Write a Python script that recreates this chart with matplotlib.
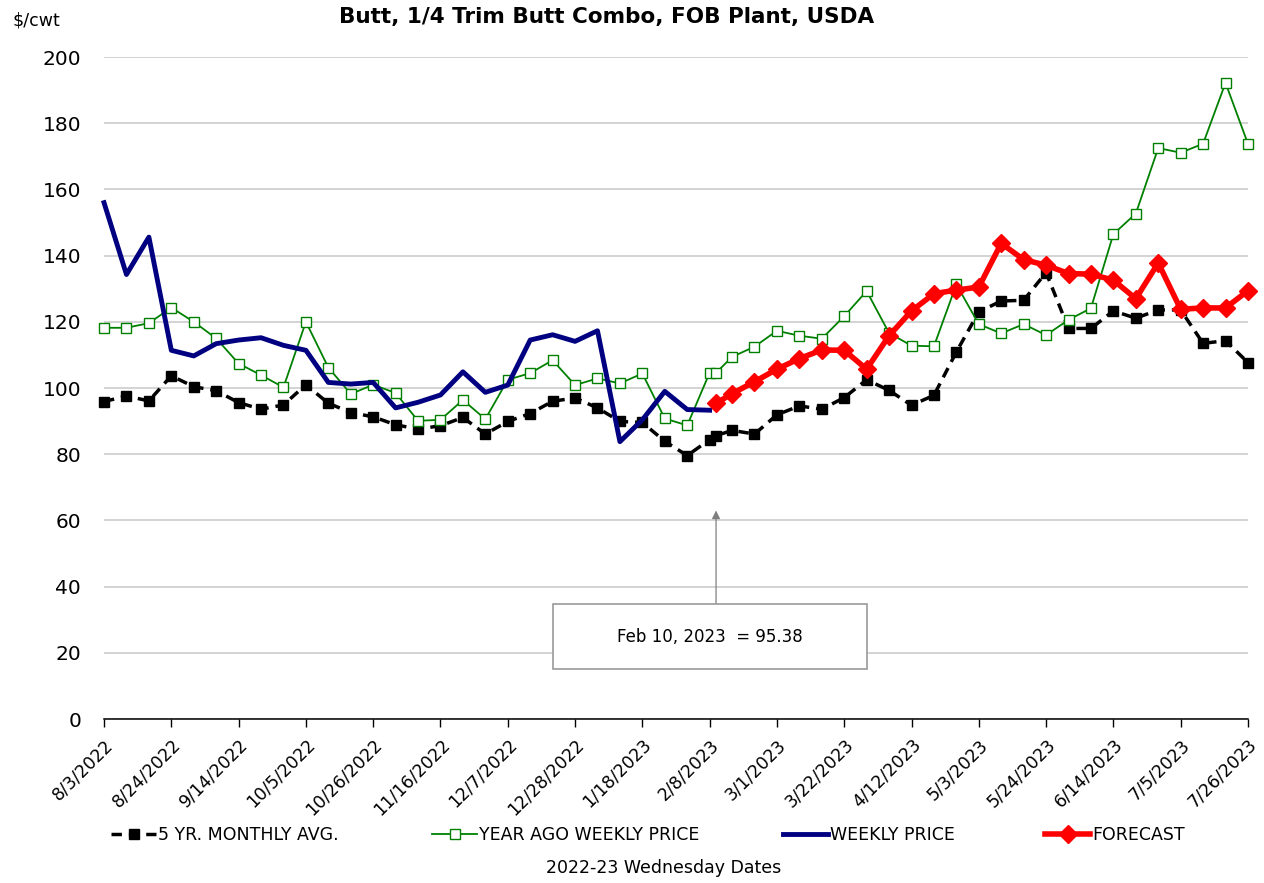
import numpy as np
import pandas as pd
import matplotlib
matplotlib.use('Agg')
import matplotlib.pyplot as plt
from matplotlib.patches import Rectangle

plt.rcParams['font.family'] = 'DejaVu Sans'

# weekly Wednesday dates, plus the Feb 10 forecast start
weeks = pd.date_range('2022-08-03', periods=52, freq='7D')
feb10 = pd.Timestamp('2023-02-10')
full_dates = weeks[:28].append(pd.DatetimeIndex([feb10])).append(weeks[28:])
weekly_dates = weeks[:28]
forecast_dates = pd.DatetimeIndex([feb10]).append(weeks[28:])

five_yr_avg = [95.9, 97.6, 96.1, 103.7, 100.4, 99.2, 95.6, 93.6, 94.9, 101.0,
               95.4, 92.6, 91.3, 88.9, 87.6, 88.6, 91.1, 86.1, 89.9, 92.3,
               96.0, 97.0, 94.0, 89.9, 89.6, 83.9, 79.6, 84.4, 85.6,
               87.2, 86.1, 91.9, 94.6, 93.6, 97.1, 102.5, 99.3, 94.8, 97.8,
               110.9, 123.0, 126.3, 126.5, 134.9, 118.0, 118.0, 123.3, 121.1, 123.6,
               123.6, 113.5, 114.3, 107.7]

year_ago = [118.2, 118.2, 119.6, 124.3, 120.0, 115.0, 107.4, 103.9, 100.2, 120.0,
            106.2, 98.2, 101.0, 98.5, 90.1, 90.4, 96.4, 90.6, 102.5, 104.5,
            108.4, 100.9, 102.9, 101.4, 104.4, 90.8, 88.7, 104.6, 104.6,
            109.4, 112.5, 117.3, 115.8, 114.9, 121.7, 129.3, 116.6, 112.8, 112.6,
            131.3, 119.3, 116.5, 119.3, 116.0, 120.6, 124.1, 146.5, 152.7, 172.5,
            171.1, 173.8, 192.2, 173.8]

weekly_price = [156.0, 134.3, 145.6, 111.4, 109.7, 113.4, 114.5, 115.2, 112.9, 111.4,
                101.7, 101.2, 101.7, 94.0, 95.7, 97.9, 104.9, 98.7, 100.9, 114.5,
                116.1, 114.1, 117.3, 83.8, 90.4, 99.0, 93.5, 93.3]

forecast = [95.38, 98.3, 101.9, 105.7, 108.9, 111.5, 111.4, 105.7, 115.8, 123.3,
            128.5, 129.6, 130.5, 143.7, 138.8, 137.1, 134.6, 134.4, 132.6, 127.0,
            137.8, 123.8, 124.2, 124.2, 129.4]

tick_dates = weeks[::3]
tick_labels = [f"{d.month}/{d.day}/{d.year}" for d in tick_dates]

fig = plt.figure(figsize=(12.64, 8.83), dpi=100)
ax = fig.add_axes([0.0823, 0.1857, 0.905, 0.7497])

l1, = ax.plot(full_dates, five_yr_avg, color='black', lw=2.5, ls=(0, (3, 2)),
              marker='s', ms=6.5, clip_on=False, label='5 YR. MONTHLY AVG.')
l2, = ax.plot(full_dates, year_ago, color='#008000', lw=1.3, marker='s', ms=7,
              mfc='white', mec='#008000', mew=1.0, clip_on=False, label='YEAR AGO WEEKLY PRICE')
l3, = ax.plot(weekly_dates, weekly_price, color='#000080', lw=3.5, clip_on=False,
              label='WEEKLY PRICE')
l4, = ax.plot(forecast_dates, forecast, color='red', lw=4, marker='D', ms=9,
              clip_on=False, label='FORECAST')

ax.set_xlim(weeks[0], weeks[-1])
ax.set_ylim(0, 200)
ax.set_yticks(np.arange(0, 201, 20))
ax.yaxis.grid(True, color='#d0d0d0', lw=1.3)
ax.set_axisbelow(True)
for s in ['left', 'right', 'top']:
    ax.spines[s].set_visible(False)
ax.spines['bottom'].set_linewidth(1.1)
ax.tick_params(axis='y', length=0, pad=16.5, labelsize=14.5)
ax.set_xticks(tick_dates)
ax.set_xticklabels(tick_labels, rotation=45, ha='right', rotation_mode='anchor', fontsize=12.5)
ax.tick_params(axis='x', direction='out', length=6, width=1.0, pad=6)

# annotation box and arrow
ax.annotate('', xy=(feb10, 63), xytext=(feb10, 34.7),
            arrowprops=dict(arrowstyle='-|>', color='#808080', lw=0.9,
                            shrinkA=0, shrinkB=0, mutation_scale=12))
ax.add_patch(Rectangle((0.3925, 15.1), 0.2745, 19.6, transform=ax.get_yaxis_transform(),
                       facecolor='white', edgecolor='#9a9a9a', lw=1.2, zorder=5))
ax.text(0.5297, 24.9, 'Feb 10, 2023  = 95.38', transform=ax.get_yaxis_transform(),
        ha='center', va='center', fontsize=12, zorder=6)

fig.text(0.48, 0.981, 'Butt, 1/4 Trim Butt Combo, FOB Plant, USDA', ha='center',
         va='center', fontsize=15.5, fontweight='bold')
fig.text(0.0095, 0.977, '\\$/cwt', ha='left', va='center', fontsize=12.5)
fig.text(0.525, 0.017, '2022-23 Wednesday Dates', ha='center', va='center', fontsize=12.5)

for h, xpos in zip([l1, l2, l3, l4], [0.0878, 0.3418, 0.6195, 0.8267]):
    fig.legend(handles=[h], loc='center left', bbox_to_anchor=(xpos, 0.054),
               frameon=False, fontsize=12.5, handlelength=2.6, handletextpad=0.1,
               borderpad=0, borderaxespad=0, numpoints=1)

fig.savefig('out.png', dpi=100)
